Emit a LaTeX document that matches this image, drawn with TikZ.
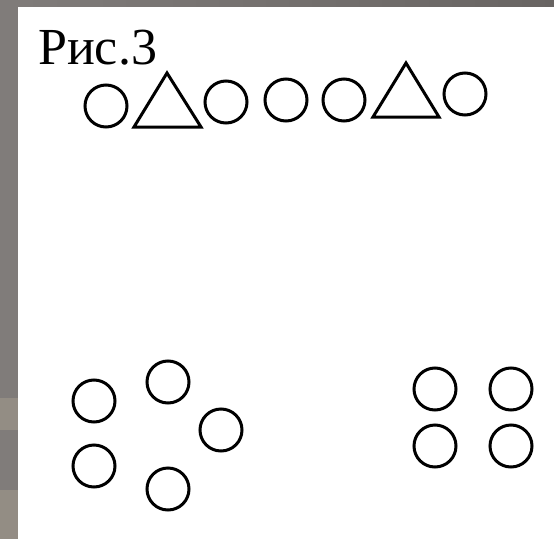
\documentclass[tikz,border=0pt]{standalone}
\usepackage{fontspec}
\setmainfont{Liberation Serif}
\definecolor{backl}{RGB}{128,124,122}
\definecolor{backr}{RGB}{104,100,98}
\definecolor{sand}{RGB}{172,162,146}
\tikzset{
    ring/.style={draw=black,line width=3pt,circle,minimum width=39pt,minimum height=42pt,inner sep=0pt},
    trig/.style={draw=black,line width=3pt,line join=miter}
}
\begin{document}
\begin{tikzpicture}[x=1pt,y=-1pt]
    \useasboundingbox (0,0) rectangle (554,538);
    % backdrop
    \fill[left color=backl,right color=backr] (-2,-2) rectangle (556,540);
    \fill[sand,opacity=0.45] (-2,398) rectangle (18,430);
    \fill[sand,opacity=0.45] (-2,490) rectangle (18,540);
    \fill[white] (18,7) rectangle (556,540);
    \node[anchor=base west,inner sep=0pt,font=\fontsize{52}{52}\selectfont] (title) at (38,64) {Рис.3};
    % top row
    \node[ring] (c1) at (106,106) {};
    \coordinate (t1a) at (134,127);
    \coordinate (t1b) at (201,127);
    \coordinate (t1c) at (167,73);
    \draw[trig] (t1a) -- (t1b) -- (t1c) -- cycle;
    \node[ring] (c2) at (226,102) {};
    \node[ring] (c3) at (286,100) {};
    \node[ring] (c4) at (344,100) {};
    \coordinate (t2a) at (373,117);
    \coordinate (t2b) at (439,117);
    \coordinate (t2c) at (406,63);
    \draw[trig] (t2a) -- (t2b) -- (t2c) -- cycle;
    \node[ring] (c5) at (465,94) {};
    % five
    \node[ring] (p1) at (94,401) {};
    \node[ring] (p2) at (168,382) {};
    \node[ring] (p3) at (221,430) {};
    \node[ring] (p4) at (94,466) {};
    \node[ring] (p5) at (168,489) {};
    % four
    \node[ring] (q1) at (435,389) {};
    \node[ring] (q2) at (511,389) {};
    \node[ring] (q3) at (435,446) {};
    \node[ring] (q4) at (511,446) {};
\end{tikzpicture}
\end{document}
